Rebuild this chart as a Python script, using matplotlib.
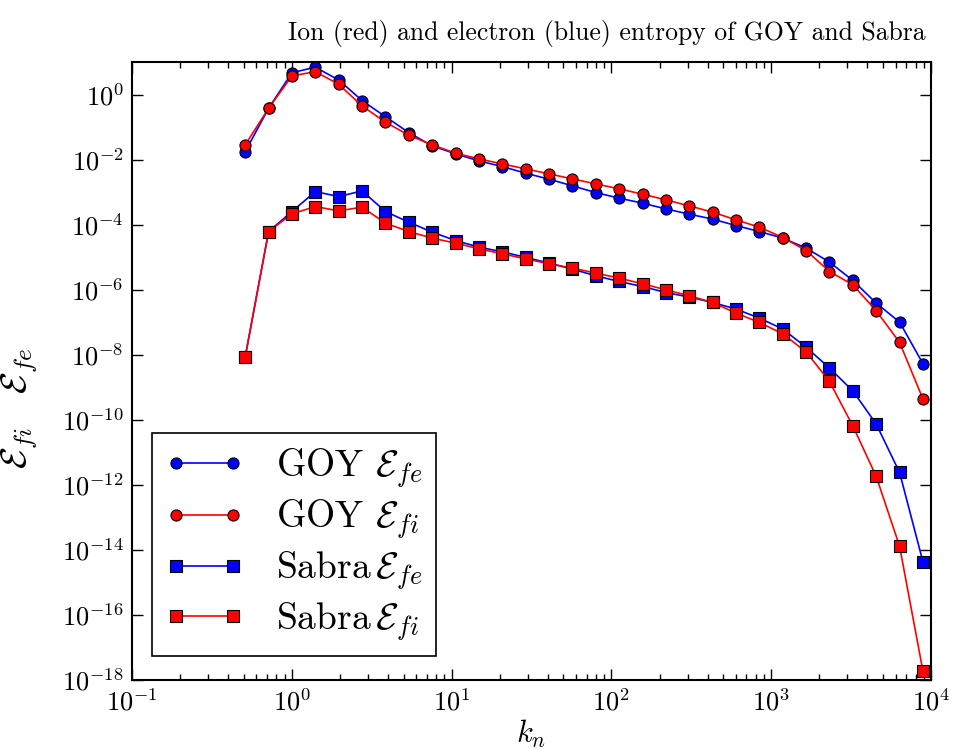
import matplotlib
matplotlib.use("Agg")
import matplotlib.pyplot as plt
from matplotlib.ticker import NullLocator, LogLocator


# -----------------------------
# Shell wavenumbers and entropy spectra
# -----------------------------
k_n = [0.511, 0.7156, 1.002, 1.403, 1.965, 2.752, 3.854, 5.397, 7.558, 10.59,
       14.82, 20.76, 29.07, 40.71, 57.01, 79.83, 111.8, 156.6, 219.2, 307.0,
       429.9, 602.1, 843.2, 1181.0, 1654.0, 2316.0, 3243.0, 4541.0, 6360.0, 8906.0]

goy_fe = [1.76e-2, 0.379, 4.71, 6.90, 2.81, 0.650, 0.209, 6.75e-2, 2.64e-2, 1.50e-2,
          9.12e-3, 6.10e-3, 3.82e-3, 2.50e-3, 1.56e-3, 9.68e-4, 6.52e-4, 4.58e-4, 3.05e-4, 2.10e-4,
          1.48e-4, 9.38e-5, 6.14e-5, 3.85e-5, 1.90e-5, 7.05e-6, 1.92e-6, 3.87e-7, 1.01e-7, 5.30e-9]

goy_fi = [2.83e-2, 0.379, 3.72, 5.06, 2.07, 0.447, 0.141, 5.62e-2, 2.83e-2, 1.57e-2,
          1.05e-2, 7.38e-3, 5.18e-3, 3.64e-3, 2.55e-3, 1.79e-3, 1.26e-3, 8.65e-4, 5.78e-4, 3.78e-4,
          2.42e-4, 1.40e-4, 8.38e-5, 4.02e-5, 1.60e-5, 3.62e-6, 1.42e-6, 2.25e-7, 2.39e-8, 4.36e-10]

sabra_fe = [8.69e-9, 6.14e-5, 2.53e-4, 1.04e-3, 7.30e-4, 1.09e-3, 2.53e-4, 1.19e-4, 5.89e-5, 3.24e-5,
            2.04e-5, 1.46e-5, 9.89e-6, 6.56e-6, 4.30e-6, 2.67e-6, 1.79e-6, 1.25e-6, 8.20e-7, 5.93e-7,
            4.05e-7, 2.54e-7, 1.34e-7, 6.17e-8, 1.70e-8, 3.90e-9, 7.73e-10, 7.41e-11, 2.40e-12, 4.27e-15]

sabra_fi = [8.69e-9, 6.14e-5, 2.15e-4, 3.60e-4, 2.65e-4, 3.45e-4, 1.11e-4, 6.14e-5, 3.85e-5, 2.70e-5,
            1.81e-5, 1.27e-5, 8.89e-6, 6.25e-6, 4.61e-6, 3.24e-6, 2.27e-6, 1.52e-6, 9.93e-7, 6.50e-7,
            4.05e-7, 1.91e-7, 9.82e-8, 4.42e-8, 1.22e-8, 1.51e-9, 6.46e-11, 1.82e-12, 1.29e-14, 1.86e-18]

y_ticks = [1e-18, 1e-16, 1e-14, 1e-12, 1e-10, 1e-8, 1e-6, 1e-4, 1e-2, 1e0]


# -----------------------------
# Plot style
# -----------------------------
plt.rcParams["font.family"] = "serif"
plt.rcParams["font.serif"] = ["cmr10", "DejaVu Serif"]
plt.rcParams["mathtext.fontset"] = "cm"
plt.rcParams["axes.formatter.use_mathtext"] = True


def main():
    fig = plt.figure(figsize=(9.54, 7.49), dpi=100)
    ax = fig.add_axes([0.1384, 0.0921, 0.8375, 0.8251])

    series = [
        (goy_fe, "o", "#0000ff", r"GOY $\mathcal{E}_{fe}$"),
        (goy_fi, "o", "#ff0000", r"GOY $\mathcal{E}_{fi}$"),
        (sabra_fe, "s", "#0000ff", r"Sabra$\,\mathcal{E}_{fe}$"),
        (sabra_fi, "s", "#ff0000", r"Sabra$\,\mathcal{E}_{fi}$"),
    ]

    for values, marker, color, label in series:
        ax.plot(k_n, values, marker=marker, color=color, markerfacecolor=color,
                markeredgecolor="black", markeredgewidth=0.8, markersize=8,
                linewidth=1.2, label=label)

    ax.set_xscale("log")
    ax.set_yscale("log")
    ax.set_xlim(1e-1, 1e4)
    ax.set_ylim(1e-18, 1e1)

    ax.set_yticks(y_ticks)
    ax.yaxis.set_minor_locator(NullLocator())
    ax.xaxis.set_major_locator(LogLocator(base=10))
    ax.xaxis.set_minor_locator(LogLocator(base=10, subs=range(2, 10)))

    ax.tick_params(which="both", direction="in", top=True, right=True)
    ax.tick_params(which="major", length=8, width=1, labelsize=19, pad=6)
    ax.tick_params(which="minor", length=4, width=1)
    for spine in ax.spines.values():
        spine.set_linewidth(1.5)

    ax.set_xlabel(r"$k_n$", fontsize=22, labelpad=2)
    ax.set_ylabel(r"$\mathcal{E}_{fi}\quad\mathcal{E}_{fe}$", fontsize=26)
    ax.yaxis.set_label_coords(-0.115, 0.44)

    title = ax.set_title("Ion (red) and electron (blue) entropy of GOY and Sabra",
                         fontsize=18.5, loc="right", pad=16)
    title.set_x(0.993)

    leg = ax.legend(loc="lower left", bbox_to_anchor=(0.025, 0.039),
                    borderaxespad=0, numpoints=2, fontsize=27,
                    fancybox=False, framealpha=1, edgecolor="black",
                    handlelength=2.1, handletextpad=0.85,
                    labelspacing=0.22, borderpad=0.35)
    leg.get_frame().set_linewidth(1.2)

    fig.savefig("out.png", dpi=100, facecolor="white")
    plt.close(fig)


if __name__ == "__main__":
    main()
